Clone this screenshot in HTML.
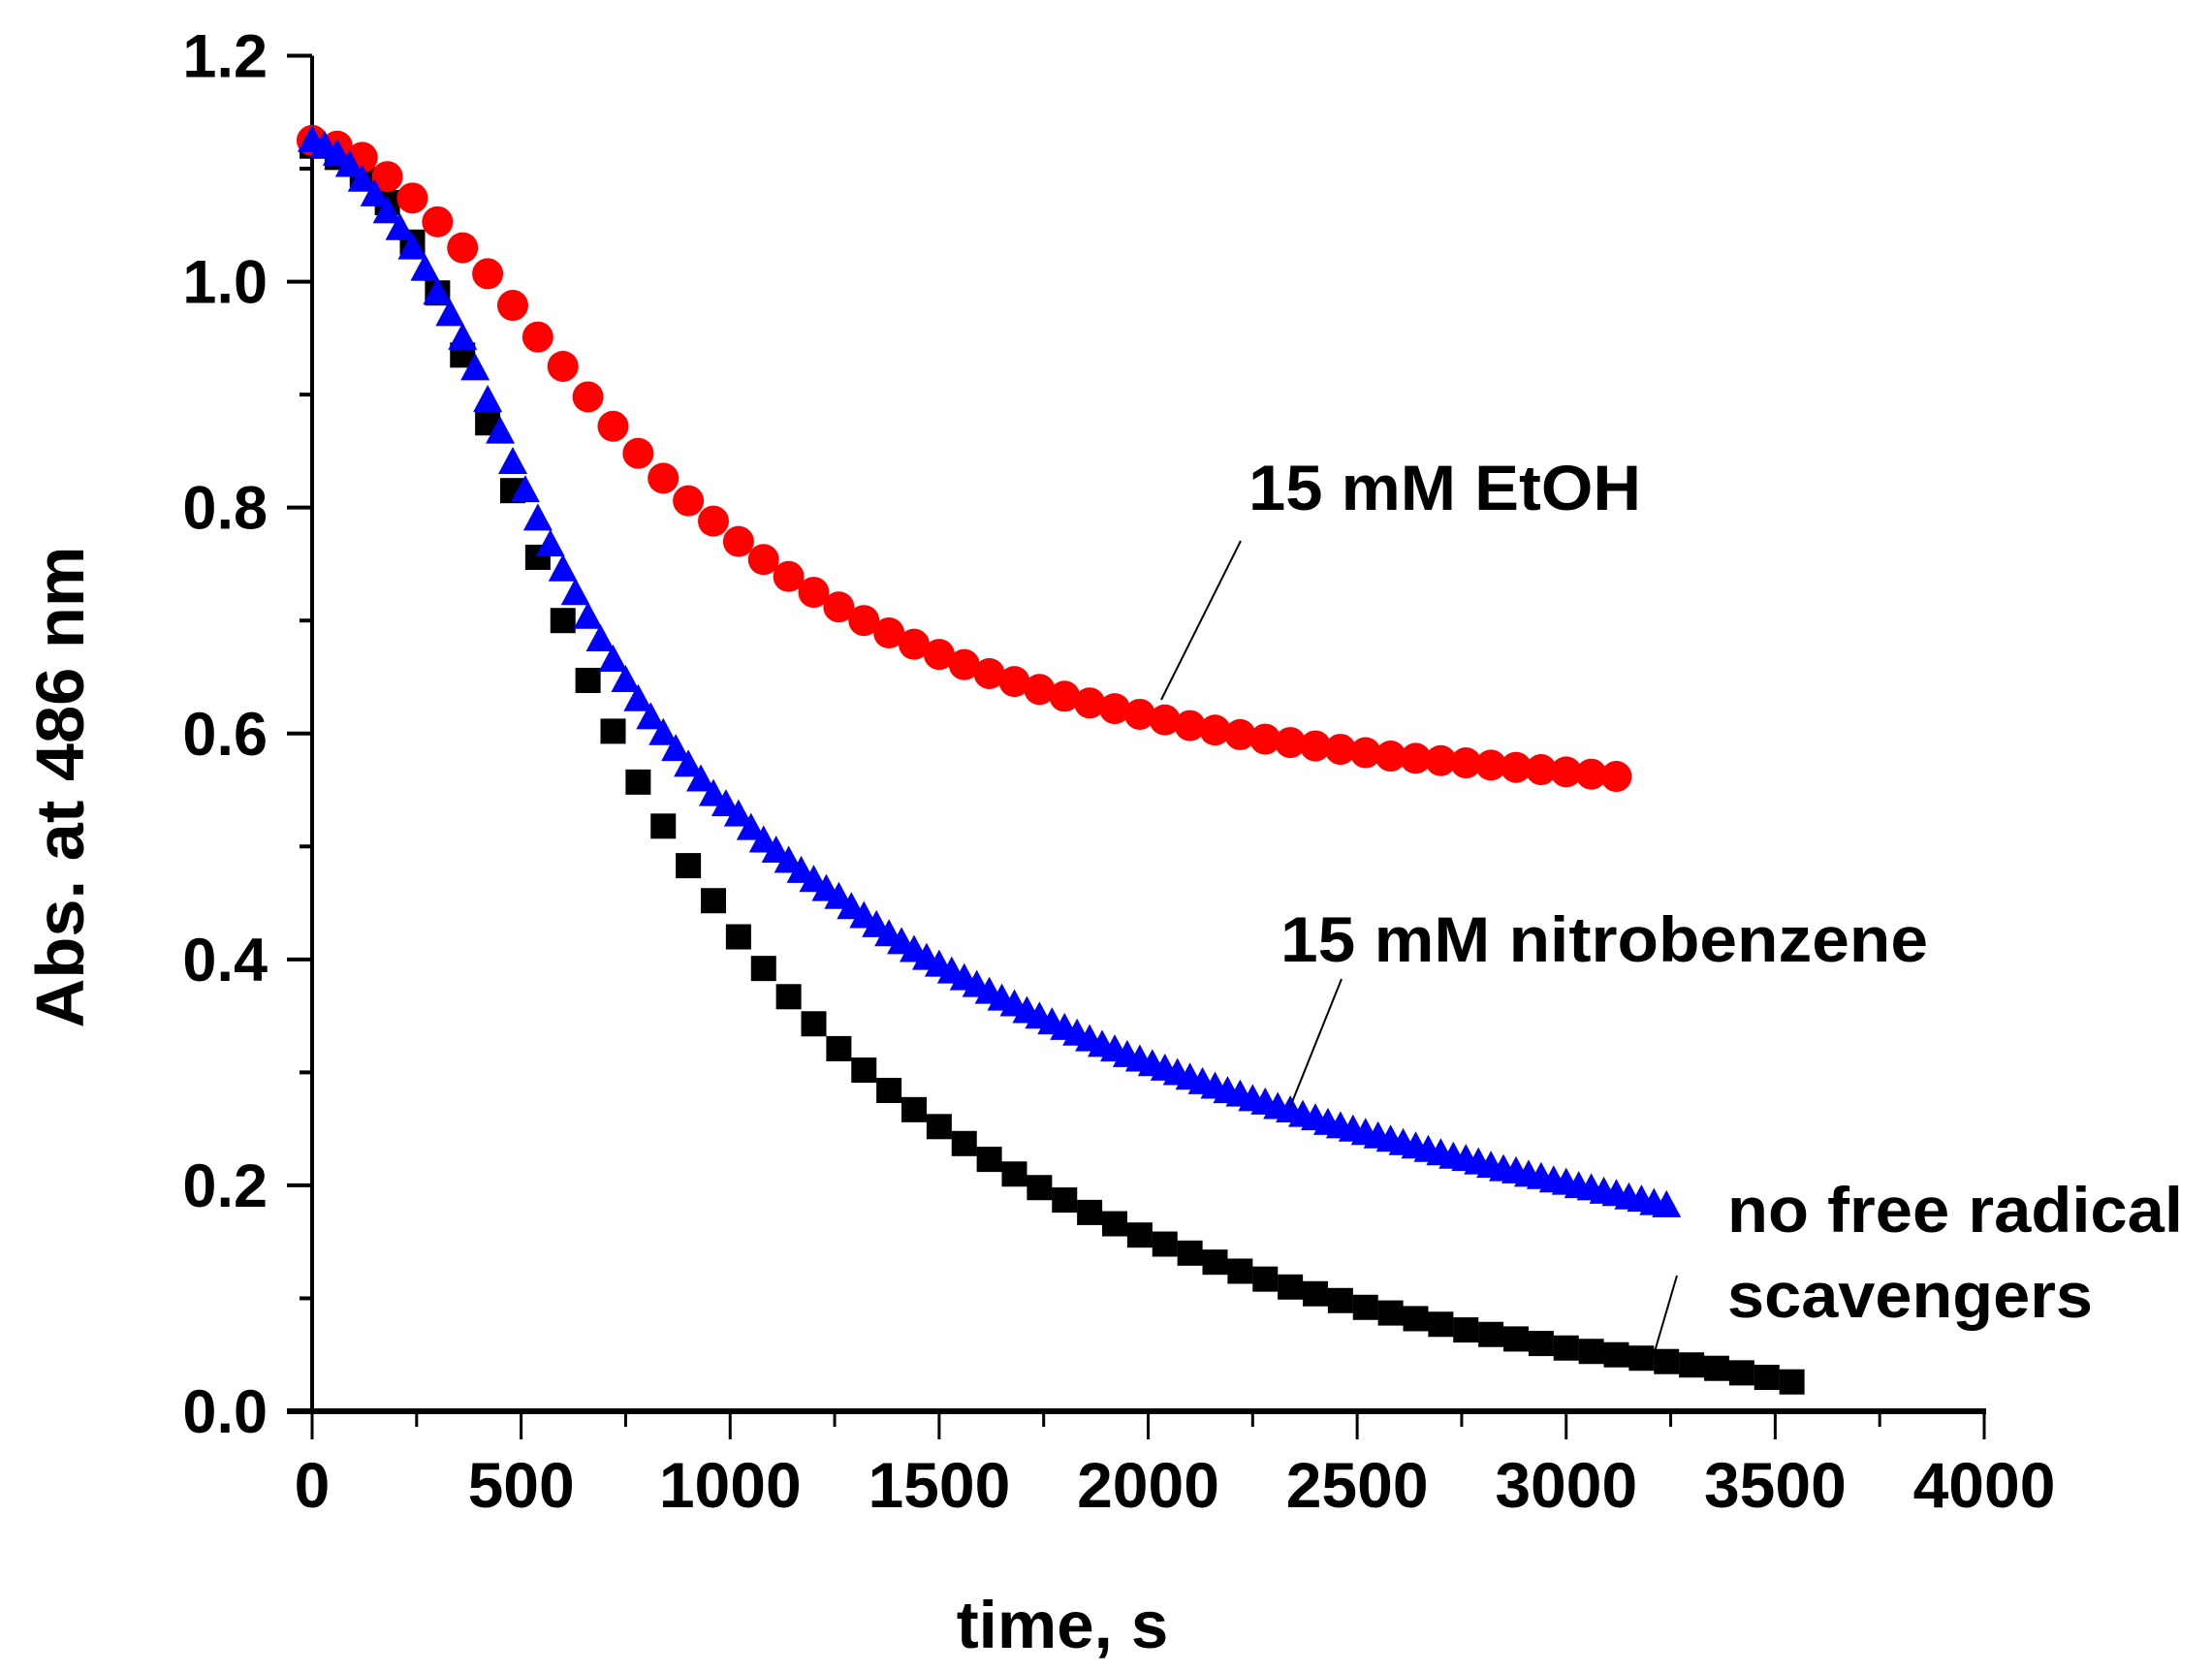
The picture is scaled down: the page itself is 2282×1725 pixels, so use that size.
<!DOCTYPE html>
<html><head><meta charset="utf-8"><style>
html,body{margin:0;padding:0;background:#fff;}
svg{display:block;font-family:"Liberation Sans",sans-serif;font-weight:bold;}
</style></head><body>
<svg id="chart" width="2282" height="1725" viewBox="0 0 2282 1725" xmlns="http://www.w3.org/2000/svg">
<rect width="2282" height="1725" fill="#fff"/>
<g id="axes"></g>
<g id="marks"></g>
<g id="annot">
  <text x="1288" y="526" font-size="66" textLength="405" lengthAdjust="spacingAndGlyphs">15 mM EtOH</text>
  <line x1="1280" y1="558" x2="1198" y2="722" stroke="#000" stroke-width="2"/>
  <text x="1321" y="992" font-size="66" textLength="668" lengthAdjust="spacingAndGlyphs">15 mM nitrobenzene</text>
  <line x1="1384" y1="1010" x2="1331" y2="1142" stroke="#000" stroke-width="2"/>
  <text x="1782" y="1271" font-size="66" textLength="470" lengthAdjust="spacingAndGlyphs">no free radical</text>
  <text x="1782" y="1359" font-size="66" textLength="377" lengthAdjust="spacingAndGlyphs">scavengers</text>
  <line x1="1730" y1="1316" x2="1706" y2="1398" stroke="#000" stroke-width="2"/>
</g>
</svg>
<script>
const xTicks = [0,500,1000,1500,2000,2500,3000,3500,4000];
const yTicks = [0.0,0.2,0.4,0.6,0.8,1.0,1.2];
const yTickLabels = ["0.0","0.2","0.4","0.6","0.8","1.0","1.2"];
const blackTimes = [0,60,120,180,240,300,360,420,480,540,600,660,720,780,840,900,960,1020,1080,1140,1200,1260,1320,1380,1440,1500,1560,1620,1680,1740,1800,1860,1920,1980,2040,2100,2160,2220,2280,2340,2400,2460,2520,2580,2640,2700,2760,2820,2880,2940,3000,3060,3120,3180,3240,3300,3360,3420,3480,3540];
const blackValues = [1.12,1.11,1.095,1.07,1.035,0.99,0.935,0.875,0.815,0.756,0.7,0.647,0.602,0.557,0.518,0.483,0.452,0.42,0.392,0.367,0.343,0.321,0.302,0.284,0.267,0.252,0.237,0.223,0.21,0.198,0.187,0.176,0.166,0.156,0.148,0.14,0.132,0.124,0.117,0.11,0.104,0.098,0.092,0.087,0.082,0.077,0.072,0.068,0.064,0.06,0.056,0.053,0.05,0.047,0.044,0.041,0.038,0.034,0.03,0.026];
const redTimes = [0,60,120,180,240,300,360,420,480,540,600,660,720,780,840,900,960,1020,1080,1140,1200,1260,1320,1380,1440,1500,1560,1620,1680,1740,1800,1860,1920,1980,2040,2100,2160,2220,2280,2340,2400,2460,2520,2580,2640,2700,2760,2820,2880,2940,3000,3060,3120];
const redValues = [1.125,1.12,1.11,1.093,1.074,1.053,1.03,1.007,0.979,0.951,0.925,0.898,0.872,0.848,0.826,0.806,0.788,0.77,0.754,0.739,0.725,0.712,0.7,0.689,0.679,0.67,0.661,0.653,0.646,0.639,0.633,0.627,0.622,0.617,0.612,0.607,0.603,0.599,0.595,0.592,0.589,0.586,0.583,0.58,0.578,0.576,0.574,0.572,0.57,0.568,0.566,0.564,0.562];
const blueTimes = [0,30,60,90,120,150,180,210,240,270,300,330,360,390,420,450,480,510,540,570,600,630,660,690,720,750,780,810,840,870,900,930,960,990,1020,1050,1080,1110,1140,1170,1200,1230,1260,1290,1320,1350,1380,1410,1440,1470,1500,1530,1560,1590,1620,1650,1680,1710,1740,1770,1800,1830,1860,1890,1920,1950,1980,2010,2040,2070,2100,2130,2160,2190,2220,2250,2280,2310,2340,2370,2400,2430,2460,2490,2520,2550,2580,2610,2640,2670,2700,2730,2760,2790,2820,2850,2880,2910,2940,2970,3000,3030,3060,3090,3120,3150,3180,3210,3240];
const blueValues = [1.125,1.12,1.113,1.103,1.09,1.077,1.062,1.047,1.03,1.011,0.99,0.971,0.95,0.923,0.895,0.867,0.84,0.815,0.79,0.767,0.745,0.724,0.703,0.683,0.665,0.647,0.63,0.614,0.6,0.586,0.572,0.559,0.546,0.537,0.528,0.516,0.505,0.496,0.487,0.478,0.47,0.462,0.455,0.446,0.438,0.43,0.422,0.415,0.408,0.401,0.395,0.389,0.383,0.377,0.371,0.365,0.36,0.354,0.349,0.344,0.339,0.334,0.329,0.324,0.32,0.315,0.311,0.307,0.303,0.299,0.295,0.291,0.287,0.283,0.28,0.276,0.273,0.269,0.266,0.262,0.259,0.255,0.252,0.249,0.246,0.243,0.24,0.237,0.234,0.231,0.228,0.225,0.223,0.22,0.217,0.214,0.212,0.209,0.207,0.204,0.202,0.199,0.197,0.194,0.192,0.189,0.187,0.184,0.182];

const NS = "http://www.w3.org/2000/svg";
const X0 = 322, X1 = 2047, Y0 = 1456, Y1 = 57.5;
function sx(v){ return X0 + (v/4000)*(X1-X0); }
function sy(v){ return Y0 - (v/1.2)*(Y0-Y1); }
function mk(tag, attrs, parent){
  const e = document.createElementNS(NS, tag);
  for (const k in attrs) e.setAttribute(k, attrs[k]);
  parent.appendChild(e);
  return e;
}
const axes = document.getElementById('axes');
const marks = document.getElementById('marks');

const gB = mk('g', {}, marks);


blackTimes.forEach((t,i)=>{
  const r = mk('rect', {x: sx(t)-13, y: sy(blackValues[i])-13, width: 26, height: 26, fill: '#000'}, gB);
  
  
});
const gR = mk('g', {}, marks);


redTimes.forEach((t,i)=>{
  const c = mk('circle', {cx: sx(t), cy: sy(redValues[i]), r: 16, fill: '#ff0000'}, gR);
  
  
});
const gU = mk('g', {}, marks);


blueTimes.forEach((t,i)=>{
  const x = sx(t), y = sy(blueValues[i]);
  const p = mk('polygon', {points: `${x},${y-16} ${x-15},${y+12} ${x+15},${y+12}`, fill: '#0000ff'}, gU);
  
  
});

const yAxis = mk('line', {x1: X0, y1: Y1, x2: X0, y2: Y0+3, stroke: '#000', 'stroke-width': 4}, axes);


const xAxis = mk('line', {x1: 296, y1: Y0, x2: X1+2, y2: Y0, stroke: '#000', 'stroke-width': 6}, axes);



xTicks.forEach((v,i)=>{
  const x = sx(v);
  const t = mk('line', {x1: x, y1: Y0, x2: x, y2: Y0+29, stroke: '#000', 'stroke-width': 3}, axes);
  
  
  if (i < xTicks.length-1) {
    const m = sx(v+250);
    const mt = mk('line', {x1: m, y1: Y0, x2: m, y2: Y0+16, stroke: '#000', 'stroke-width': 3}, axes);
    
    
  }
  const lb = mk('text', {x: x, y: 1555, 'font-size': 66, 'text-anchor': 'middle'}, axes);
  lb.textContent = String(v);
  
  
});
yTicks.forEach((v,i)=>{
  const y = sy(v);
  const t = mk('line', {x1: X0-26, y1: y, x2: X0, y2: y, stroke: '#000', 'stroke-width': 4}, axes);
  
  
  if (i < yTicks.length-1) {
    const m = sy(v+0.1);
    const mt = mk('line', {x1: X0-13, y1: m, x2: X0, y2: m, stroke: '#000', 'stroke-width': 4}, axes);
    
    
  }
  const lb = mk('text', {x: 276, y: y+22, 'font-size': 63, 'text-anchor': 'end'}, axes);
  lb.textContent = yTickLabels[i];
  
  
});
const xt = mk('text', {x: 1096, y: 1700, 'font-size': 69, 'text-anchor': 'middle'}, axes);
xt.textContent = 'time, s';


const yt = mk('text', {x: 0, y: 0, 'font-size': 70, 'text-anchor': 'middle', transform: 'translate(86,812) rotate(-90)', textLength: 497, lengthAdjust: 'spacingAndGlyphs'}, axes);
yt.textContent = 'Abs. at 486 nm';


</script>
</body></html>
